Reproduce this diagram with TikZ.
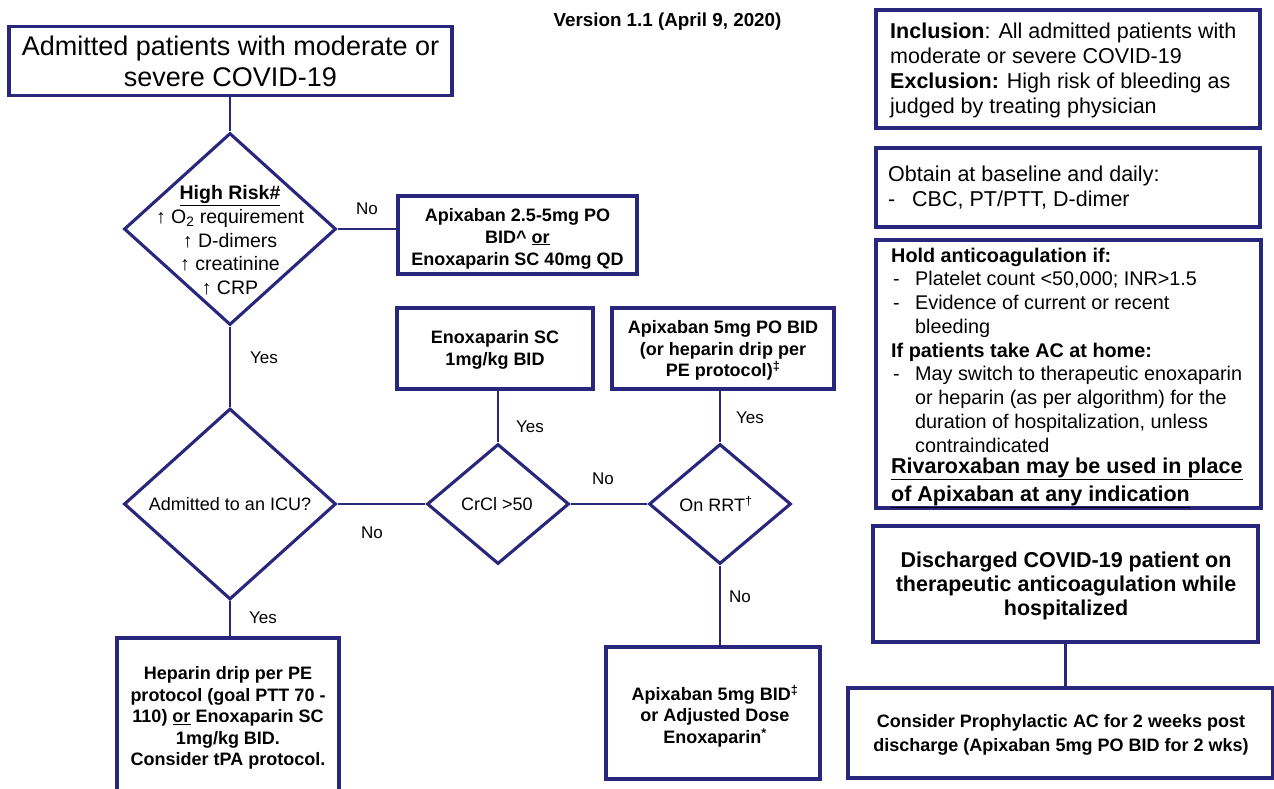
\documentclass[tikz,border=0pt]{standalone}
\usepackage{fontspec}
\setmainfont{Liberation Sans}
\usetikzlibrary{shapes.geometric}
\definecolor{navy}{RGB}{40,38,125}
\newcommand{\fsz}[2]{\fontsize{#1}{#2}\selectfont}
\newcommand{\dashitem}{\hspace*{2pt}\makebox[22pt][l]{-}}
\newcommand{\hangind}{\hspace*{24pt}}
\begin{document}
\begin{tikzpicture}[x=1pt,y=-1pt,
  box/.style={draw=navy, line width=3.2pt, fill=white, inner sep=0pt},
  dia/.style={diamond, draw=navy, line width=3.1pt, fill=white, inner sep=0pt},
  conn/.style={draw=navy, line width=2.6pt},
  txt/.style={inner sep=0pt, align=center, text=black},
  ltxt/.style={inner sep=0pt, align=left, anchor=west, text=black},
  lbl/.style={inner sep=0pt, text=black, font=\fsz{17}{20}}]
\useasboundingbox (0,0) rectangle (1274,789);
\clip (0,0) rectangle (1274,789);

% ---------- left flow ----------
\node[box, minimum width=443, minimum height=69] (title) at (230.5,61) {};
\node[txt, font=\fsz{27}{31}] (titlet) at (230.5,61) {Admitted patients with moderate or\\severe COVID-19};

\node[txt, font=\bfseries\fsz{18.8}{22}] (ver) at (667.5,22) {Version 1.1 (April 9, 2020)};

\node[dia, minimum width=212, minimum height=192] (d1) at (230,229) {};
\node[txt, font=\fsz{19.5}{23.7}] (d1t) at (230,240.5) {\textbf{\underline{High Risk\#}}\\↑ O\textsubscript{2} requirement\\↑ D-dimers\\↑ creatinine\\↑ CRP};

\node[box, minimum width=239, minimum height=78] (apix1) at (517.5,235) {};
\node[txt, font=\bfseries\fsz{18}{22}] (apix1t) at (517.5,238.5) {Apixaban 2.5-5mg PO\\BID\textasciicircum{} \underline{or}\\Enoxaparin SC 40mg QD};

\node[dia, minimum width=212, minimum height=191] (icu) at (230,504) {};
\node[txt, font=\fsz{18}{22}] (icut) at (230,504) {Admitted to an ICU?};

\node[dia, minimum width=142, minimum height=120] (crcl) at (498,504) {};
\node[txt, font=\fsz{18}{22}] (crclt) at (497,504) {CrCl >50};

\node[dia, minimum width=142, minimum height=120] (rrt) at (720,504) {};
\node[txt, font=\fsz{18}{22}] (rrtt) at (716,504) {On RRT\textsuperscript{\dag}};

\node[box, minimum width=196, minimum height=81] (enox) at (495,348.5) {};
\node[txt, font=\bfseries\fsz{18}{22}] (enoxt) at (495,350) {Enoxaparin SC\\1mg/kg BID};

\node[box, minimum width=222, minimum height=81] (apix2) at (723,348.5) {};
\node[txt, font=\bfseries\fsz{18}{21.5}] (apix2t) at (723,350.5) {Apixaban 5mg PO BID\\(or heparin drip per\\PE protocol)\textsuperscript{\ddag}};

\node[box, minimum width=214, minimum height=132] (apix3) at (713,713) {};
\node[txt, font=\bfseries\fsz{18}{21.5}] (apix3t) at (715,716) {Apixaban 5mg BID\textsuperscript{\ddag}\\or Adjusted Dose\\Enoxaparin\textsuperscript{*}};

\node[box, minimum width=222, minimum height=170] (hep) at (228,723) {};
\node[txt, font=\bfseries\fsz{18}{21.5}] (hept) at (228,718) {Heparin drip per PE\\protocol (goal PTT 70 -\\110) \underline{or} Enoxaparin SC\\1mg/kg BID.\\Consider tPA protocol.};

% connectors
\draw[conn] (d1.north |- title.south) -- (d1.north);
\draw[conn] (d1.east) -- (d1.east -| apix1.west);
\draw[conn] (d1.south) -- (icu.north);
\draw[conn] (icu.east) -- (crcl.west);
\draw[conn] (crcl.east) -- (rrt.west);
\draw[conn] (crcl.north) -- (crcl.north |- enox.south);
\draw[conn] (rrt.north) -- (rrt.north |- apix2.south);
\draw[conn] (rrt.south) -- (rrt.south |- apix3.north);
\draw[conn] (icu.south) -- (icu.south |- hep.north);

% labels
\node[lbl] (no1) at (367,209) {No};
\node[lbl] (yes1) at (264,358) {Yes};
\node[lbl] (no2) at (372,533) {No};
\node[lbl] (yes2) at (263,618) {Yes};
\node[lbl] (yes3) at (530,427) {Yes};
\node[lbl] (yes4) at (750,418) {Yes};
\node[lbl] (no3) at (603,479) {No};
\node[lbl] (no4) at (740,597) {No};

% ---------- right column ----------
\node[box, minimum width=384, minimum height=118] (inc) at (1068,69) {};
\node[ltxt, font=\fsz{21.5}{25}] (inct) at (890,70.5) {\textbf{Inclusion}: All admitted patients with\\moderate or severe COVID-19\\\textbf{Exclusion:} High risk of bleeding as\\judged by treating physician};

\node[box, minimum width=384, minimum height=79] (obt) at (1068,187.5) {};
\node[ltxt, font=\fsz{21.5}{25}] (obtt) at (888,187.5) {Obtain at baseline and daily:\\\makebox[24pt][l]{-}CBC, PT/PTT, D-dimer};

\node[box, minimum width=385, minimum height=268] (hold) at (1068.5,374) {};
\node[ltxt, font=\fsz{19.8}{23.75}] (holdt) at (891,350) {\textbf{Hold anticoagulation if:}\\\dashitem Platelet count <50,000; INR>1.5\\\dashitem Evidence of current or recent\\\hangind bleeding\\\textbf{If patients take AC at home:}\\\dashitem May switch to therapeutic enoxaparin\\\hangind or heparin (as per algorithm) for the\\\hangind duration of hospitalization, unless\\\hangind contraindicated};
\node[ltxt, font=\bfseries\fsz{21.5}{28}] (rivt) at (891,483) {\underline{Rivaroxaban may be used in place}\\\underline{of Apixaban at any indication}};

\node[box, minimum width=385, minimum height=116] (dis) at (1065.5,584) {};
\node[txt, font=\bfseries\fsz{21.5}{24}] (dist) at (1066,586) {Discharged COVID-19 patient on\\therapeutic anticoagulation while\\hospitalized};

\node[box, minimum width=425, minimum height=90] (cons) at (1060.5,733) {};
\node[txt, font=\bfseries\fsz{18}{23.5}] (const) at (1061,735) {Consider Prophylactic AC for 2 weeks post\\discharge (Apixaban 5mg PO BID for 2 wks)};

\draw[conn] (dis.south) -- (dis.south |- cons.north);
\end{tikzpicture}
\end{document}
